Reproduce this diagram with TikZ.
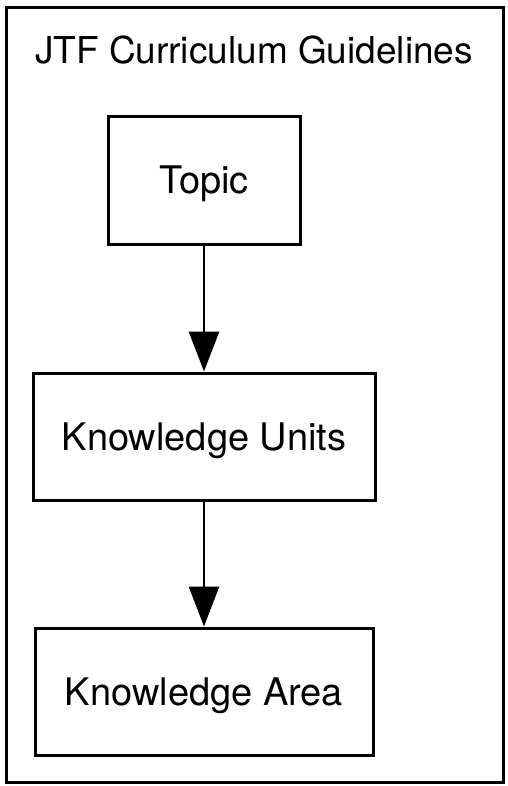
\documentclass[tikz,border=0pt]{standalone}
\usepackage{fontspec}
\setmainfont{TeX Gyre Heros}
\usetikzlibrary{arrows.meta}
\begin{document}
\begin{tikzpicture}[x=1pt,y=-1pt,
  frame/.style={draw,line width=3pt},
  box/.style={draw,line width=3pt,minimum height=127pt,inner sep=0pt,
    text height=27pt,text depth=0pt,font=\fontsize{38}{44}\selectfont},
  link/.style={line width=2.8pt,-{Triangle[length=40pt,width=30pt]}}]
  \useasboundingbox (0,0) rectangle (507,786);
  \draw[frame] (6,8) rectangle (503,782);
  \node[font=\fontsize{37}{44}\selectfont] (title) at (254,50) {JTF Curriculum Guidelines};
  \node[box,minimum width=192pt] (topic) at (204,180.5) {Topic};
  \node[box,minimum width=342pt] (units) at (204,436.5) {Knowledge Units};
  \node[box,minimum width=338pt] (area) at (204,691.5) {Knowledge Area};
  \draw[link] (topic) -- (units);
  \draw[link] (units) -- (area);
\end{tikzpicture}
\end{document}
